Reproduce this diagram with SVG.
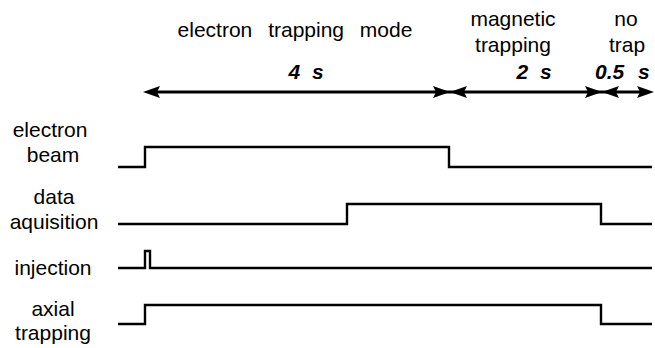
<svg xmlns="http://www.w3.org/2000/svg" width="655" height="348" viewBox="0 0 655 348">
  <style>
    text { font-family: "Liberation Sans", Arial, sans-serif; font-size: 21px; fill: #000; }
    .lbl { text-anchor: middle; }
    .dur { font-weight: bold; font-style: italic; }
    .sig { fill: none; stroke: #000; stroke-width: 2.4; stroke-linejoin: miter; }
    .axis { fill: none; stroke: #000; stroke-width: 3; }
    .head { fill: #000; }
  </style>
  <defs>
    <!-- arrowhead pointing right, tip at origin -->
    <path id="ah" class="head" d="M0,0 L-17,-6 L-14,0 L-17,6 Z"/>
  </defs>

  <rect width="655" height="348" fill="#fff"/>

  <!-- phase headings -->
  <g id="phase-trapping">
    <text x="295" y="37" class="lbl" word-spacing="10">electron trapping mode</text>
    <text x="306" y="79" class="lbl dur" word-spacing="6">4 s</text>
  </g>
  <g id="phase-magnetic">
    <text x="513" y="26" class="lbl">magnetic</text>
    <text x="513" y="52" class="lbl">trapping</text>
    <text x="534" y="79" class="lbl dur" word-spacing="6">2 s</text>
  </g>
  <g id="phase-notrap">
    <text x="626" y="26" class="lbl">no</text>
    <text x="627" y="52" class="lbl">trap</text>
    <text x="595" y="79" class="dur">0.5</text>
    <text x="638" y="79" class="dur">s</text>
  </g>

  <!-- time axis with duration arrows -->
  <g id="connectors">
    <line class="axis" x1="150" y1="92" x2="647" y2="92"/>
    <use href="#ah" transform="translate(143,92) scale(-1,1)"/>
    <use href="#ah" transform="translate(450,92)"/>
    <use href="#ah" transform="translate(450,92) scale(-1,1)"/>
    <use href="#ah" transform="translate(602,92)"/>
    <use href="#ah" transform="translate(602,92) scale(-1,1)"/>
    <use href="#ah" transform="translate(654,92)"/>
  </g>

  <!-- signal traces -->
  <g id="electron-beam">
    <text x="50" y="137" class="lbl">electron</text>
    <text x="53" y="162" class="lbl">beam</text>
    <path class="sig" d="M118,167 H145 V147 H449 V167 H652"/>
  </g>
  <g id="data-aquisition">
    <text x="54" y="204" class="lbl">data</text>
    <text x="54" y="229" class="lbl">aquisition</text>
    <path class="sig" d="M118,224 H347 V204 H601 V224 H652"/>
  </g>
  <g id="injection">
    <text x="53" y="275" class="lbl">injection</text>
    <path class="sig" d="M118,268 H145 V251 H150 V268 H652"/>
  </g>
  <g id="axial-trapping">
    <text x="53" y="316" class="lbl">axial</text>
    <text x="53" y="340" class="lbl">trapping</text>
    <path class="sig" d="M118,324 H145 V305 H601 V324 H652"/>
  </g>
</svg>
